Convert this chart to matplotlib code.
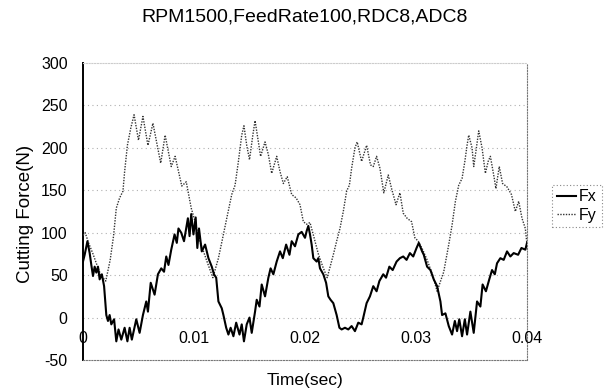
import matplotlib
matplotlib.use("Agg")
import matplotlib.pyplot as plt
from matplotlib.lines import Line2D

plt.rcParams['font.family'] = ['Liberation Sans', 'DejaVu Sans']

title = "RPM1500,FeedRate100,RDC8,ADC8"
xlabel = "Time(sec)"
ylabel = "Cutting Force(N)"
series_names = ["Fx", "Fy"]

ytick_vals = [-50, 0, 50, 100, 150, 200, 250, 300]
xtick_vals = [0, 0.01, 0.02, 0.03, 0.04]
xtick_labels = ["0", "0.01", "0.02", "0.03", "0.04"]

# Fx: time (ms), force (N)
fx_t_ms = [0.0, 0.15, 0.4, 0.6, 0.75, 0.9, 1.05, 1.2, 1.35, 1.5, 1.7, 1.9, 2.1, 2.25, 2.4, 2.55,
           2.8, 3.0, 3.2, 3.45, 3.75, 4.0, 4.2, 4.4, 4.8, 5.1, 5.4, 5.7, 5.85, 6.1, 6.45, 6.75,
           7.05, 7.3, 7.5, 7.7, 7.95, 8.25, 8.45, 8.6, 8.85, 9.1, 9.45, 9.6, 9.75, 9.95, 10.15,
           10.3, 10.45, 10.7, 11.0, 11.3, 11.6, 11.8, 12.0, 12.2, 12.5, 12.65, 12.9, 13.1, 13.3,
           13.55, 13.8, 14.1, 14.3, 14.5, 14.75, 15.0, 15.2, 15.5, 15.65, 15.9, 16.1, 16.4, 16.7,
           16.9, 17.15, 17.45, 17.75, 18.0, 18.3, 18.6, 18.8, 19.1, 19.4, 19.7, 20.0, 20.15, 20.3,
           20.45, 20.6, 20.75, 21.05, 21.2, 21.35, 21.65, 21.9, 22.1, 22.3, 22.55, 22.85, 23.1,
           23.3, 23.6, 23.9, 24.2, 24.5, 24.8, 25.1, 25.25, 25.55, 25.85, 26.15, 26.45, 26.7,
           27.05, 27.3, 27.6, 27.9, 28.25, 28.55, 28.85, 29.15, 29.45, 29.75, 30.05, 30.25, 30.55,
           30.7, 31.0, 31.3, 31.6, 31.9, 32.2, 32.35, 32.65, 32.95, 33.25, 33.5, 33.7, 33.9, 34.15,
           34.4, 34.6, 34.9, 35.2, 35.5, 35.8, 36.0, 36.3, 36.6, 36.85, 37.1, 37.3, 37.6, 37.9,
           38.2, 38.5, 38.8, 39.2, 39.5, 39.85, 40.0]
fx_vals = [66, 74, 90, 76, 62, 49, 60, 53, 60, 45, 51, 37, 3, -4, 3, -8,
           -2, -28, -14, -26, -12, -28, -12, -26, -2, -18, 3, 19, 7, 41, 27, 51,
           58, 54, 72, 62, 80, 98, 88, 105, 100, 90, 117, 96, 122, 98, 118,
           82, 105, 78, 86, 70, 60, 51, 47, 19, 11, 3, -12, -20, -12,
           -22, -6, -20, -8, -28, -8, 0, -18, 7, 21, 13, 39, 25, 47,
           58, 51, 66, 78, 70, 86, 74, 90, 84, 98, 101, 94, 102, 108,
           98, 86, 70, 66, 70, 58, 51, 41, 25, 21, 17, 3, -12,
           -14, -12, -14, -10, -16, -6, -8, 0, 17, 25, 37, 31, 43,
           51, 47, 60, 56, 66, 70, 72, 68, 76, 72, 82, 88, 78,
           74, 60, 56, 45, 37, 19, 3, 5, -10, -20, -4, -16, -2, -22,
           -2, -20, 7, -18, 19, 13, 39, 31, 45, 56, 51, 64, 70, 68,
           78, 72, 76, 74, 82, 80, 88]

# Fy: time (ms), force (N)
fy_t_ms = [0.0, 0.2, 0.5, 0.9, 1.2, 1.6, 2.05, 2.45, 2.75, 3.0, 3.3, 3.6, 3.75, 4.0, 4.3, 4.6,
           5.0, 5.4, 5.85, 6.3, 7.0, 7.4, 7.95, 8.3, 8.9, 9.3, 9.75, 10.1, 10.4, 10.8, 11.2, 11.7,
           12.2, 12.65, 12.95, 13.4, 13.7, 14.0, 14.3, 14.5, 14.75, 15.0, 15.3, 15.5, 15.8, 16.0,
           16.4, 16.7, 17.0, 17.45, 17.75, 18.05, 18.4, 18.8, 19.2, 19.55, 19.85, 20.15, 20.45,
           20.8, 21.2, 21.6, 22.0, 22.55, 22.85, 23.15, 23.45, 23.75, 24.0, 24.2, 24.5, 24.7, 25.1,
           25.55, 25.9, 26.15, 26.45, 26.75, 27.1, 27.5, 27.8, 28.2, 28.55, 28.85, 29.2, 29.6,
           29.9, 30.2, 30.6, 31.0, 31.5, 31.9, 32.5, 32.95, 33.25, 33.55, 33.85, 34.15, 34.4,
           34.6, 34.75, 35.05, 35.2, 35.4, 35.65, 35.95, 36.25, 36.5, 36.7, 37.0, 37.2, 37.5,
           37.8, 38.2, 38.6, 38.95, 39.25, 39.55, 39.85, 40.0]
fy_vals = [97, 100, 88, 75, 64, 50, 43, 68, 96, 129, 141, 149, 172, 203, 223, 239,
           209, 237, 203, 229, 182, 215, 178, 190, 155, 160, 129, 113, 95, 80, 65, 47,
           70, 98, 117, 145, 156, 184, 215, 226, 203, 186, 215, 232, 207, 190,
           207, 192, 170, 190, 172, 158, 166, 145, 141, 133, 113, 110, 112,
           95, 75, 60, 47, 74, 90, 105, 125, 149, 156, 176, 200, 207, 184,
           203, 180, 178, 190, 176, 147, 168, 152, 133, 147, 123, 117, 113,
           94, 90, 80, 68, 50, 31, 54, 86, 109, 137, 156, 164, 184,
           203, 215, 200, 178, 196, 220, 200, 170, 184, 190, 168, 152, 178,
           158, 154, 145, 125, 137, 117, 105, 86]

fx_t = [v / 1000.0 for v in fx_t_ms]
fy_t = [v / 1000.0 for v in fy_t_ms]

fig = plt.figure(figsize=(6.05, 3.92), dpi=100)
ax = fig.add_axes([83 / 605, 1 - 360 / 392, 444 / 605, (360 - 63) / 392])

grid_color = '#b0b0b0'
for yv in ytick_vals[1:-1]:
    ax.axhline(yv, color=grid_color, lw=0.8, ls=(0, (1, 3)), zorder=1)

ax.plot(fy_t, fy_vals, color='#333333', lw=1.0, ls=(0, (1, 1)), zorder=3)
ax.plot(fx_t, fx_vals, color='black', lw=1.5, ls='-', zorder=4)

ax.set_xlim(0, 0.04)
ax.set_ylim(-50, 300)
ax.set_yticks(ytick_vals)
ax.set_yticklabels([str(v) for v in ytick_vals], fontsize=11.5)
ax.set_xticks([])
ax.tick_params(axis='y', length=0, pad=11)

for xv, lab in zip(xtick_vals, xtick_labels):
    ax.text(xv, -25, lab, ha='center', va='center', fontsize=11.5, zorder=5)

ax.spines['left'].set_linewidth(1.4)
ax.spines['left'].set_color('black')
for s in ['bottom', 'right', 'top']:
    ax.spines[s].set_linestyle((0, (1, 1.5)))
    ax.spines[s].set_color('#777777')
    ax.spines[s].set_linewidth(0.8)
ax.spines['top'].set_color('#cccccc')

ax.set_facecolor('white')
fig.text(305 / 605, 1 - 17 / 392, title, ha='center', va='center', fontsize=14)
fig.text(305 / 605, 1 - 381 / 392, xlabel, ha='center', va='center', fontsize=12.5)
fig.text(25 / 605, 1 - 214 / 392, ylabel, ha='center', va='center', rotation=90, fontsize=13.5)

handles = [Line2D([0], [0], color='black', lw=1.5, ls='-'),
           Line2D([0], [0], color='#333333', lw=1.0, ls=(0, (1, 1)))]
leg = fig.legend(handles, series_names, loc='center left',
                 bbox_to_anchor=(552 / 605, 1 - 206 / 392), fontsize=11.5,
                 handlelength=1.2, handletextpad=0.2, borderpad=0.3, labelspacing=0.2,
                 borderaxespad=0, fancybox=False, framealpha=1)
leg.get_frame().set_linestyle((0, (1, 2)))
leg.get_frame().set_edgecolor('#888888')
leg.get_frame().set_linewidth(0.8)

fig.savefig('out.png', dpi=100)
